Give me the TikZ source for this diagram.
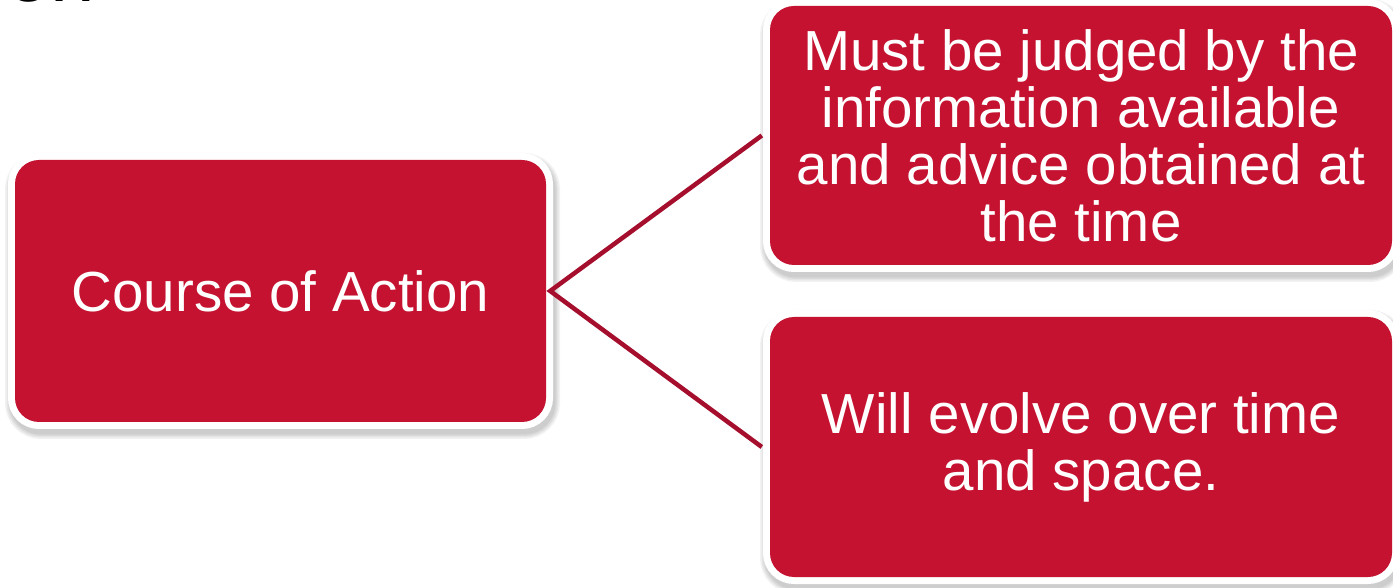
\documentclass[tikz,border=0pt]{standalone}
\usepackage{fontspec}
\setmainfont{Liberation Sans}
\definecolor{boxred}{HTML}{C41230}
\definecolor{linkred}{HTML}{A50E2C}
\begin{document}
\begin{tikzpicture}[x=1pt,y=1pt,
  softshadow/.style={preaction={draw=black,opacity=0.05,line width=#1,
      transform canvas={shift={(2pt,-5pt)}}}},
  panel/.style={rounded corners=24pt, inner sep=0pt,
      softshadow=24pt, softshadow=21pt, softshadow=18pt, softshadow=15pt,
      preaction={draw=white,line width=14pt},
      fill=boxred, text=white, align=center,
      font=\fontsize{56.5}{57}\selectfont},
  link/.style={draw=linkred, line width=4.5pt}]
  \useasboundingbox (0,0) rectangle (1393,587);
  \clip (0,0) rectangle (1393,587);
  \fill[white] (0,0) rectangle (1393,587);

  % heading running off the top edge
  \node[anchor=base west, inner sep=0pt, font=\fontsize{80}{80}\selectfont]
    (heading) at (6,585) {on};

  \node[panel, minimum width=531pt, minimum height=262pt]
    (course) at (280.5,296) {Course of Action};
  \node[panel, minimum width=622pt, minimum height=259pt]
    (judged) at (1081,451.5)
    {Must be judged by the\\information available\\and advice obtained at\\the time};
  \node[panel, minimum width=622pt, minimum height=260pt]
    (evolve) at (1081,140) {Will evolve over time\\and space.};

  \coordinate (hub) at ([xshift=4pt]course.east);
  \coordinate (topend) at ([xshift=-8pt]judged.west);
  \coordinate (botend) at ([xshift=-8pt]evolve.west);
  \draw[link] (topend) -- (hub) -- (botend);
\end{tikzpicture}
\end{document}
